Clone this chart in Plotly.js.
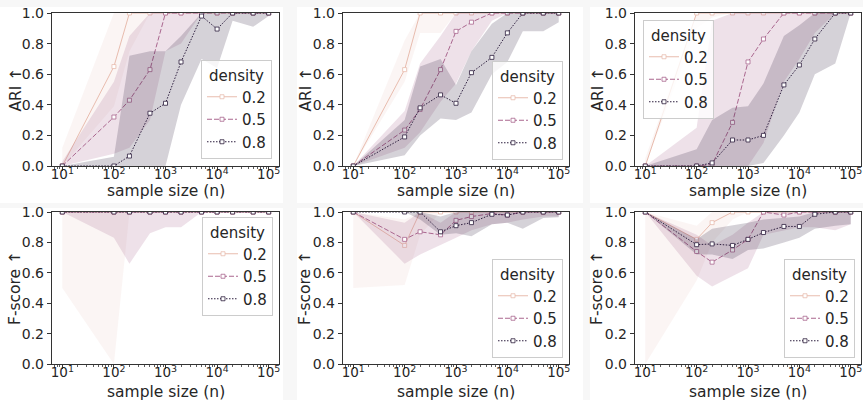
<!DOCTYPE html>
<html>
<head>
<meta charset="utf-8">
<script src="https://cdn.plot.ly/plotly-3.0.1.min.js"></script>
<style>html,body{margin:0;padding:0;background:#f7f7f7;}#chart{width:863px;height:400px;}</style>
</head>
<body>
<div id="chart"></div>
<script>
// ---------- data ----------
const sampleSizes = [10, 100, 200, 500, 1000, 2000, 5000, 10000, 20000, 50000, 100000];
const densityLevels = ['0.2', '0.5', '0.8'];
const xTickVals = [10, 100, 1000, 10000, 100000];
const xTickText = ['10<sup>1</sup>', '10<sup>2</sup>', '10<sup>3</sup>', '10<sup>4</sup>', '10<sup>5</sup>'];
const yTickVals = [0, 0.2, 0.4, 0.6, 0.8, 1.0];
const yTitles = ['ARI ↑', 'F-score ↑'];
const xTitle = 'sample size (n)';
const legendTitle = 'density';

// Panel 1 (top-left) ARI
const ari1_d02    = [0, 0.65, 1, 1, 1, 1, 1, 1, 1, 1, 1];
const ari1_d02_lo = [0, 0.39, 0.75, 1, 1, 1, 1, 1, 1, 1, 1];
const ari1_d02_hi = [0.12, 1, 1, 1, 1, 1, 1, 1, 1, 1, 1];
const ari1_d05    = [0, 0.32, 0.43, 0.63, 1, 1, 1, 1, 1, 1, 1];
const ari1_d05_lo = [0, 0.08, 0.12, 0.3, 0.75, 0.8, 1, 1, 1, 1, 1];
const ari1_d05_hi = [0.03, 0.55, 0.85, 1, 1, 1, 1, 1, 1, 1, 1];
const ari1_d08    = [0, 0, 0.065, 0.345, 0.41, 0.68, 0.98, 0.895, 1, 1, 1];
const ari1_d08_lo = [0, 0, 0, 0, 0, 0.4, 0.7, 0.64, 0.95, 0.91, 0.98];
const ari1_d08_hi = [0, 0.06, 0.72, 0.75, 0.75, 0.85, 1, 1, 1, 1, 1];

// Panel 2 (top-middle) ARI
const ari2_d02    = [0, 0.63, 1, 1, 1, 1, 1, 1, 1, 1, 1];
const ari2_d02_lo = [0, 0.55, 0.87, 0.87, 1, 1, 1, 1, 1, 1, 1];
const ari2_d02_hi = [0, 0.82, 1, 1, 1, 1, 1, 1, 1, 1, 1];
const ari2_d05    = [0, 0.235, 0.37, 0.63, 0.88, 0.94, 1, 1, 1, 1, 1];
const ari2_d05_lo = [0, 0.12, 0.22, 0.42, 0.54, 0.75, 0.95, 1, 1, 1, 1];
const ari2_d05_hi = [0, 0.36, 0.67, 0.85, 1, 1, 1, 1, 1, 1, 1];
const ari2_d08    = [0, 0.19, 0.38, 0.465, 0.41, 0.61, 0.71, 0.87, 1, 1, 1];
const ari2_d08_lo = [0, 0.07, 0.2, 0.31, 0.3, 0.35, 0.6, 0.68, 0.88, 0.88, 0.94];
const ari2_d08_hi = [0, 0.3, 0.65, 0.7, 0.53, 0.75, 0.93, 1, 1, 1, 1];

// Panel 3 (top-right) ARI
const ari3_d02    = [0, 1, 1, 1, 1, 1, 1, 1, 1, 1, 1];
const ari3_d02_lo = [0, 0.9, 0.97, 1, 1, 1, 1, 1, 1, 1, 1];
const ari3_d02_hi = [0.05, 1, 1, 1, 1, 1, 1, 1, 1, 1, 1];
const ari3_d05    = [0, 0, 0.01, 0.285, 0.68, 0.83, 1, 1, 1, 1, 1];
const ari3_d05_lo = [0, 0, 0, 0, 0, 0.15, 0.55, 0.7, 0.87, 1, 1];
const ari3_d05_hi = [0, 0.25, 0.95, 1, 1, 1, 1, 1, 1, 1, 1];
const ari3_d08    = [0, 0, 0.02, 0.17, 0.17, 0.2, 0.53, 0.66, 0.83, 1, 1];
const ari3_d08_lo = [0, 0, 0, 0, 0, 0.02, 0.2, 0.35, 0.6, 0.67, 1];
const ari3_d08_hi = [0, 0.11, 0.3, 0.38, 0.39, 0.54, 0.85, 0.92, 1, 1, 1];

// Panel 4 (bottom-left) F-score
const f1_d02    = [1, 1, 1, 1, 1, 1, 1, 1, 1, 1, 1];
const f1_d02_lo = [0.5, 0, 1, 1, 1, 1, 1, 1, 1, 1, 1];
const f1_d02_hi = [1, 1, 1, 1, 1, 1, 1, 1, 1, 1, 1];
const f1_d05    = [1, 1, 1, 1, 1, 1, 1, 1, 1, 1, 1];
const f1_d05_lo = [1, 0.83, 0.66, 0.86, 0.9, 0.9, 1, 1, 1, 1, 1];
const f1_d05_hi = [1, 1, 1, 1, 1, 1, 1, 1, 1, 1, 1];
const f1_d08    = [1, 1, 1, 1, 1, 1, 1, 1, 1, 1, 1];
const f1_d08_lo = [1, 1, 1, 1, 1, 1, 1, 1, 1, 1, 1];
const f1_d08_hi = [1, 1, 1, 1, 1, 1, 1, 1, 1, 1, 1];

// Panel 5 (bottom-middle) F-score
const f2_d02    = [1, 0.78, 1, 1, 1, 1, 1, 1, 1, 1, 1];
const f2_d02_lo = [0.5, 0.52, 0.85, 1, 1, 1, 1, 1, 1, 1, 1];
const f2_d02_hi = [1, 0.95, 1, 1, 1, 1, 1, 1, 1, 1, 1];
const f2_d05    = [1, 0.82, 0.87, 0.85, 0.945, 0.97, 0.99, 0.98, 1, 1, 1];
const f2_d05_lo = [1, 0.66, 0.72, 0.78, 0.83, 0.88, 0.92, 0.93, 0.95, 0.97, 0.97];
const f2_d05_hi = [1, 0.93, 1, 0.93, 1, 1, 1, 1, 1, 1, 1];
const f2_d08    = [1, 1, 1, 0.87, 0.91, 0.93, 0.985, 0.98, 1, 1, 1];
const f2_d08_lo = [1, 1, 0.95, 0.85, 0.86, 0.84, 0.92, 0.93, 0.89, 0.96, 0.965];
const f2_d08_hi = [1, 1, 1, 0.97, 1, 1, 1, 1, 1, 1, 1];

// Panel 6 (bottom-right) F-score
const f3_d02    = [1, 0.82, 0.93, 1, 1, 1, 1, 1, 1, 1, 1];
const f3_d02_lo = [0, 0.55, 0.8, 0.95, 1, 1, 1, 1, 1, 1, 1];
const f3_d02_hi = [1, 0.91, 1, 1, 1, 1, 1, 1, 1, 1, 1];
const f3_d05    = [1, 0.74, 0.67, 0.75, 0.82, 1, 0.98, 1, 1, 1, 1];
const f3_d05_lo = [1, 0.58, 0.51, 0.58, 0.63, 0.85, 0.88, 0.9, 0.9, 0.88, 0.92];
const f3_d05_hi = [1, 0.85, 0.78, 0.85, 0.93, 1, 1, 1, 1, 1, 1];
const f3_d08    = [1, 0.785, 0.79, 0.78, 0.82, 0.865, 0.905, 0.905, 0.985, 1, 1];
const f3_d08_lo = [1, 0.72, 0.72, 0.69, 0.75, 0.76, 0.8, 0.83, 0.89, 0.91, 0.92];
const f3_d08_hi = [1, 0.82, 0.89, 0.91, 0.93, 0.95, 0.96, 0.97, 1, 1, 1];

// ---------- styles ----------
const lineColors = ['#e8bcae', '#aa678f', '#2d1e3e'];
const bandColors = ['rgba(237,209,203,0.22)', 'rgba(170,103,143,0.2)', 'rgba(45,30,62,0.2)'];
const dashes = ['solid', '5px,2px', '1.5px,1.5px'];
const W = 863, H = 400;
const colPx = [[52, 279], [343, 569], [635, 861]];
const rowPx = [[13, 166], [212, 364]];
const xTitleY = [191, 392];
const yTitleX = [15, 305, 597];
const textColor = '#262626';
const font = 'DejaVu Sans';

const panels = [
  [[ari1_d02, ari1_d02_lo, ari1_d02_hi], [ari1_d05, ari1_d05_lo, ari1_d05_hi], [ari1_d08, ari1_d08_lo, ari1_d08_hi]],
  [[ari2_d02, ari2_d02_lo, ari2_d02_hi], [ari2_d05, ari2_d05_lo, ari2_d05_hi], [ari2_d08, ari2_d08_lo, ari2_d08_hi]],
  [[ari3_d02, ari3_d02_lo, ari3_d02_hi], [ari3_d05, ari3_d05_lo, ari3_d05_hi], [ari3_d08, ari3_d08_lo, ari3_d08_hi]],
  [[f1_d02, f1_d02_lo, f1_d02_hi], [f1_d05, f1_d05_lo, f1_d05_hi], [f1_d08, f1_d08_lo, f1_d08_hi]],
  [[f2_d02, f2_d02_lo, f2_d02_hi], [f2_d05, f2_d05_lo, f2_d05_hi], [f2_d08, f2_d08_lo, f2_d08_hi]],
  [[f3_d02, f3_d02_lo, f3_d02_hi], [f3_d05, f3_d05_lo, f3_d05_hi], [f3_d08, f3_d08_lo, f3_d08_hi]]
];

// legend placement: [x, y, xanchor, yanchor] in pixels
const legendPos = [
  [272, 159, 'right', 'bottom'],
  [563, 160, 'right', 'bottom'],
  [643, 20, 'left', 'top'],
  [273, 217, 'right', 'top'],
  [563, 358, 'right', 'bottom'],
  [855, 358, 'right', 'bottom']
];

const minorVals = [];
for (let k = 0; k <= 5; k++) for (let m = 2; m <= 9; m++) minorVals.push(m * Math.pow(10, k));

const traces = [];
const layout = {
  width: W, height: H,
  margin: {l: 0, r: 0, t: 0, b: 0},
  paper_bgcolor: '#f7f7f7',
  plot_bgcolor: '#ffffff',
  font: {family: font, color: textColor, size: 14},
  showlegend: true,
  shapes: [],
  annotations: [],
  hovermode: false
};

// white figure tiles behind each subplot
const tiles = [[0, 7, 283, 203], [297, 7, 583, 203], [590, 7, 863, 203],
               [0, 208, 283, 400], [297, 208, 583, 400], [590, 208, 863, 400]];
tiles.forEach(t => layout.shapes.push({
  type: 'rect', xref: 'paper', yref: 'paper', layer: 'below',
  x0: t[0] / W, x1: t[2] / W, y0: 1 - t[3] / H, y1: 1 - t[1] / H,
  fillcolor: '#ffffff', line: {width: 0}
}));

panels.forEach((series, p) => {
  const idx = p + 1;
  const xa = 'x' + (idx === 1 ? '' : idx);
  const ya = 'y' + (idx === 1 ? '' : idx);
  const lg = 'legend' + (idx === 1 ? '' : idx);
  const col = p % 3, row = Math.floor(p / 3);

  series.forEach((s, d) => {
    traces.push({
      x: sampleSizes, y: s[1], xaxis: xa, yaxis: ya, type: 'scatter', mode: 'lines',
      line: {width: 0, color: lineColors[d]}, showlegend: false, hoverinfo: 'skip', legend: lg
    });
    traces.push({
      x: sampleSizes, y: s[2], xaxis: xa, yaxis: ya, type: 'scatter', mode: 'lines',
      line: {width: 0, color: lineColors[d]}, fill: 'tonexty', fillcolor: bandColors[d],
      showlegend: false, hoverinfo: 'skip', legend: lg
    });
    traces.push({
      x: sampleSizes, y: s[0], xaxis: xa, yaxis: ya, type: 'scatter', mode: 'lines+markers',
      name: densityLevels[d], legend: lg,
      line: {width: 1, color: lineColors[d], dash: dashes[d]},
      marker: {size: 4, color: '#ffffff', symbol: 'square', line: {color: lineColors[d], width: 0.8}}
    });
  });

  const xKey = 'xaxis' + (idx === 1 ? '' : idx);
  const yKey = 'yaxis' + (idx === 1 ? '' : idx);
  layout[xKey] = {
    type: 'log', range: [0.8, 5.2],
    domain: [colPx[col][0] / W, colPx[col][1] / W],
    anchor: ya,
    tickmode: 'array', tickvals: xTickVals, ticktext: xTickText,
    ticks: 'outside', ticklen: 4, tickwidth: 1, tickcolor: '#333',
    ticklabelstandoff: -8,
    minor: {tickmode: 'array', tickvals: minorVals, ticks: 'outside', ticklen: 2, tickwidth: 0.8, tickcolor: '#333', showgrid: false},
    showline: true, mirror: true, linecolor: '#333', linewidth: 1.2,
    showgrid: false, zeroline: false,
    tickfont: {size: 13.5, color: textColor, family: font}
  };
  layout[yKey] = {
    range: [0, 1],
    domain: [1 - rowPx[row][1] / H, 1 - rowPx[row][0] / H],
    anchor: xa,
    tickmode: 'array', tickvals: yTickVals, tickformat: '.1f',
    ticks: 'outside', ticklen: 4, tickwidth: 1, tickcolor: '#333',
    showline: true, mirror: true, linecolor: '#333', linewidth: 1.2,
    showgrid: false, zeroline: false,
    tickfont: {size: 14, color: textColor, family: font}
  };

  // axis titles
  layout.annotations.push({
    xref: 'paper', yref: 'paper', showarrow: false,
    x: (colPx[col][0] + colPx[col][1]) / 2 / W, y: 1 - xTitleY[row] / H,
    xanchor: 'center', yanchor: 'middle',
    text: xTitle, font: {size: 15.5, color: textColor, family: font}
  });
  layout.annotations.push({
    xref: 'paper', yref: 'paper', showarrow: false, textangle: -90,
    x: yTitleX[col] / W, y: 1 - (rowPx[row][0] + rowPx[row][1]) / 2 / H,
    xanchor: 'center', yanchor: 'middle',
    text: yTitles[row], font: {size: 15.5, color: textColor, family: font}
  });

  const lp = legendPos[p];
  layout[lg] = {
    x: lp[0] / W, y: 1 - lp[1] / H, xanchor: lp[2], yanchor: lp[3],
    xref: 'paper', yref: 'paper', traceorder: 'normal',
    bgcolor: 'rgba(255,255,255,0.8)', bordercolor: '#cccccc', borderwidth: 1,
    font: {size: 15, color: textColor, family: font},
    title: {text: legendTitle, side: 'top center', font: {size: 15, color: textColor, family: font}},
    itemwidth: 30, tracegroupgap: 0
  };
});

Plotly.newPlot('chart', traces, layout, {staticPlot: true, displayModeBar: false});
</script>
</body>
</html>
